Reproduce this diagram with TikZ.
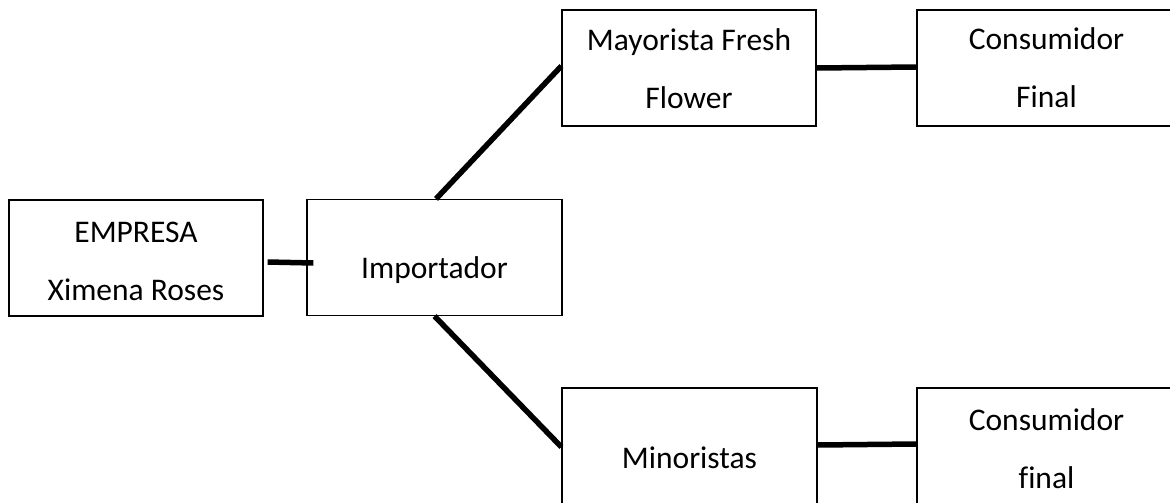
\documentclass[tikz,border=0pt]{standalone}
\usepackage{fontspec}
\setmainfont{Carlito}[Ligatures=NoCommon]
\begin{document}
\begin{tikzpicture}[x=1pt,y=-1pt,
  box/.style={draw, line width=1.2pt, minimum width=#1, minimum height=116pt, inner sep=0pt},
  lbl/.style={font=\fontsize{31.5}{58}\selectfont, align=center, anchor=base, inner sep=0pt},
  link/.style={line width=5.5pt}]
  % page frame
  \fill[white] (0,0) rectangle (1170,503);
  \useasboundingbox (0,0) rectangle (1170,503);

  % boxes
  \node[box=254pt] (emp) at (136,258)    {};
  \node[box=255pt] (imp) at (434.5,257.5){};
  \node[box=254pt] (may) at (689,68)     {};
  \node[box=259pt] (cf1) at (1046.5,68)  {};
  \node[box=255pt] (min) at (689.5,446)  {};
  \node[box=259pt] (cf2) at (1046.5,446) {};

  % labels (anchored at the baseline of their last line)
  \node[lbl] (empT) at (136,300)    {EMPRESA\\Ximena Roses};
  \node[lbl] (impT) at (434.5,278)  {Importador};
  \node[lbl] (mayT) at (689,108)    {Mayorista Fresh\\Flower};
  \node[lbl] (cf1T) at (1046.5,107) {Consumidor\\Final};
  \node[lbl] (minT) at (689.5,468)  {Minoristas};
  \node[lbl] (cf2T) at (1046.5,488) {Consumidor\\final};

  % connectors
  \draw[link] ([shift={(4,4)}]emp.east) -- ([shift={(7,5.5)}]imp.west);
  \draw[link] ([xshift=1.5]imp.north) -- ([yshift=2]may.west);
  \draw[link] (imp.south) -- ([yshift=-1]min.west);
  \draw[link] (may.east) -- ([yshift=1]cf1.west);
  \draw[link] ([yshift=1]min.east) -- ([yshift=2]cf2.west);
\end{tikzpicture}
\end{document}
